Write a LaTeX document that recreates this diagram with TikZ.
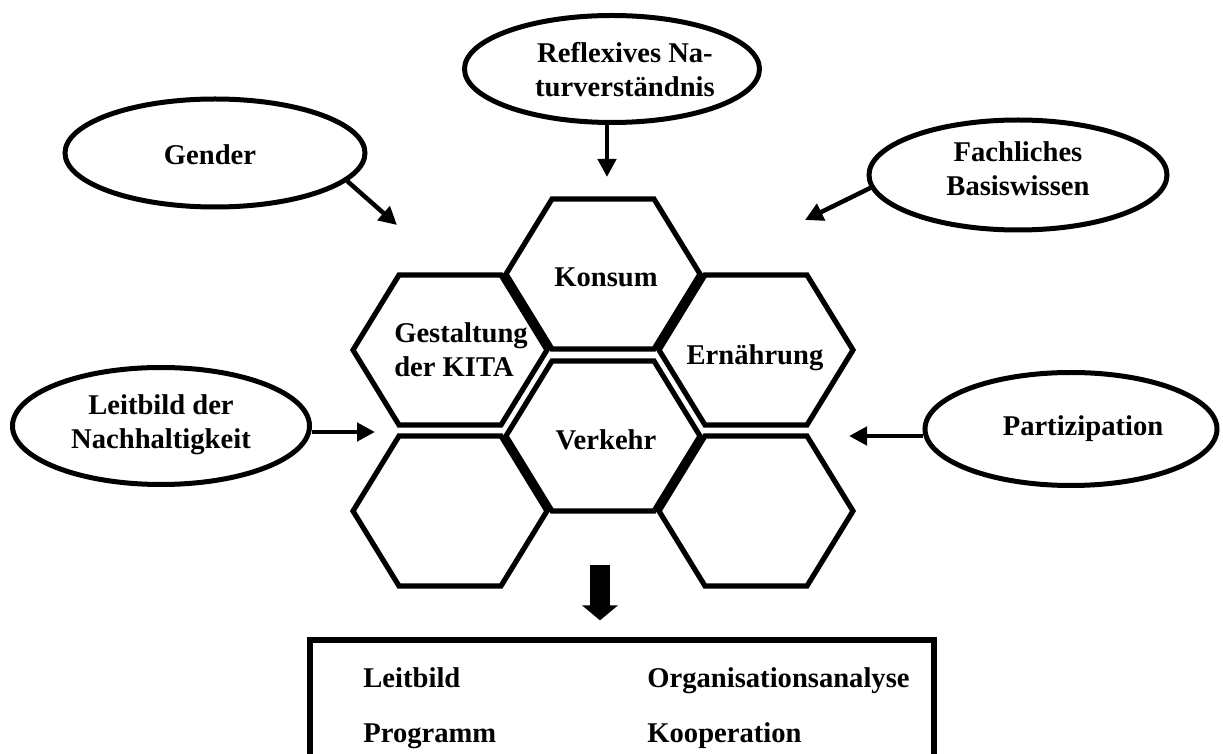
\documentclass[tikz,border=0pt]{standalone}
\usepackage{fontspec}
\setmainfont{Liberation Serif}
\usetikzlibrary{shapes.geometric,arrows.meta}

\tikzset{
    blase/.style={draw, ellipse, line width=2.5pt, minimum width=149pt, minimum height=55pt, inner sep=0pt},
    wabe/.style={line width=2.6pt},
    schrift/.style={font=\fontsize{14.3}{17}\selectfont\bfseries, inner sep=0pt, align=center},
    pfeil/.style={line width=2.25pt, -{Triangle[length=9pt,width=9pt]}},
    grosspfeil/.style={line width=10pt, -{Triangle[length=7.5pt,width=17.5pt]}}
}

\begin{document}
\begin{tikzpicture}[x=0.5pt,y=-0.5pt]
    \useasboundingbox (0,0) rectangle (1223,754);
    \clip (0,0) rectangle (1223,754);

    \foreach \cx/\cy in {603/274,450/350,756/350,603/436,450/511,756/511}
        \draw[wabe,shift={(\cx,\cy)}] (-97,0) -- (-51,-75) -- (51,-75) -- (97,0) -- (51,75) -- (-51,75) -- cycle;

    \node[schrift,anchor=base] (konsum) at (606,287) {Konsum};
    \node[schrift,align=left] (kita) at (461,350) {Gestaltung\\der KITA};
    \node[schrift,anchor=base] (ernaehrung) at (755,365) {Ernährung};
    \node[schrift,anchor=base] (verkehr) at (606,450) {Verkehr};

    \node[blase,minimum width=147.5pt,minimum height=53.5pt] (natur) at (612,69) {};
    \node[schrift] (naturText) at (625,70) {Reflexives Na-\\turverständnis};
    \node[blase,minimum width=150pt,minimum height=54pt] (gender) at (215,153) {};
    \node[schrift] (genderText) at (210,155) {Gender};
    \node[blase] (fach) at (1018,175) {};
    \node[schrift] (fachText) at (1018,169) {Fachliches\\Basiswissen};
    \node[blase,minimum width=148.5pt,minimum height=58.5pt] (leit) at (161,426) {};
    \node[schrift] (leitText) at (161,425) {Leitbild der\\Nachhaltigkeit};
    \node[blase,minimum width=146pt,minimum height=56.5pt] (part) at (1071,429) {};
    \node[schrift] (partText) at (1083,429) {Partizipation};

    \coordinate (naturZiel) at (607,177);
    \coordinate (genderZiel) at (397,225);
    \coordinate (fachZiel) at (805,220);
    \coordinate (leitZiel) at (375,432);
    \coordinate (partZiel) at (849,436);
    \draw[pfeil] (naturZiel |- natur.south) -- (naturZiel);
    \draw[pfeil] (gender.-12) -- (genderZiel);
    \draw[pfeil] (fach.185) -- (fachZiel);
    \draw[pfeil] (leitZiel -| leit.east) -- (leitZiel);
    \draw[pfeil] (partZiel -| part.west) -- (partZiel);

    \node[draw,line width=2.6pt,minimum width=312pt,minimum height=65pt,inner sep=0pt] (massnahmen) at (622,705) {};
    \coordinate (pfeilStart) at (600,565);
    \draw[grosspfeil,shorten >=8.5pt] (pfeilStart) -- (pfeilStart |- massnahmen.north);

    \node[schrift,anchor=base west] (leitbild) at (363,688) {Leitbild};
    \node[schrift,anchor=base west] (analyse) at (647,688) {Organisationsanalyse};
    \node[schrift,anchor=base west] (programm) at (363,742) {Programm};
    \node[schrift,anchor=base west] (kooperation) at (647,742) {Kooperation};

\end{tikzpicture}
\end{document}
